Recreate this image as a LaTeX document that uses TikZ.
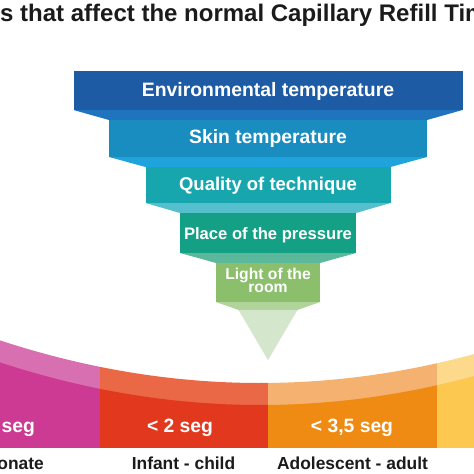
\documentclass[tikz,border=0pt]{standalone}
\usepackage{fontspec}
\setmainfont{Liberation Sans}
\usepackage{xcolor}
\usepackage{tikz}
\definecolor{CrtInk}{HTML}{1B1B1B}
\definecolor{FunnelA}{HTML}{1D5BA5}
\definecolor{RimA}{HTML}{2073BD}
\definecolor{FunnelB}{HTML}{198CC0}
\definecolor{RimB}{HTML}{1FA3DC}
\definecolor{FunnelC}{HTML}{17A6AE}
\definecolor{RimC}{HTML}{56BFCD}
\definecolor{FunnelD}{HTML}{13A085}
\definecolor{RimD}{HTML}{5CB89B}
\definecolor{FunnelE}{HTML}{8BBF6B}
\definecolor{RimE}{HTML}{B1D49B}
\definecolor{FunnelTip}{HTML}{D4E6CB}
\definecolor{NeoDark}{HTML}{CC3A94}
\definecolor{NeoLight}{HTML}{D86FB0}
\definecolor{ChildDark}{HTML}{E2381E}
\definecolor{ChildLight}{HTML}{EB6846}
\definecolor{AdultDark}{HTML}{EF8B12}
\definecolor{AdultLight}{HTML}{F5B16F}
\definecolor{ElderDark}{HTML}{FCC850}
\definecolor{ElderLight}{HTML}{FDD98B}

\begin{document}
\begin{tikzpicture}[x=1pt,y=-1pt,
  lvltext/.style={text=white,inner sep=0pt,anchor=base},
  segtext/.style={text=white,inner sep=0pt,anchor=base,
    font=\bfseries\fontsize{19.3}{20}\selectfont},
  agetext/.style={text=CrtInk,inner sep=0pt,anchor=base,
    font=\bfseries\fontsize{17.4}{18}\selectfont}]
  \useasboundingbox (0,0) rectangle (474,474);
  \clip (0,0) rectangle (474,474);
  \fill[white] (0,0) rectangle (474,474);
  % title, cut at both sides
  \node[text=CrtInk,inner sep=0pt,anchor=base west,font=\bfseries\fontsize{24}{26}\selectfont]
    (title) at (0,21.7) {s that affect the normal Capillary Refill Tim};
  % funnel
  \foreach \yt/\yb/\yn/\w/\wn/\body/\rim in
    {71/110/120/194.5/159/FunnelA/RimA,
     120/157/167/159/122.5/FunnelB/RimB,
     167/203/213/122.5/88/FunnelC/RimC,
     213/253/263/88/52/FunnelD/RimD,
     263/302/310/52/29.5/FunnelE/RimE}
  {
    \fill[\body] (268-\w,\yt) rectangle (268+\w,\yb);
    \fill[\rim] (268-\w,\yb) -- (268+\w,\yb) -- (268+\wn,\yn) -- (268-\wn,\yn) -- cycle;
  }
  \fill[FunnelTip] (238.5,310) -- (297.5,310) -- (268,360) -- cycle;
  \node[lvltext,font=\bfseries\fontsize{19.4}{20}\selectfont] (envtemp) at (268,96) {Environmental temperature};
  \node[lvltext,font=\bfseries\fontsize{19.3}{20}\selectfont] (skintemp) at (268,143.3) {Skin temperature};
  \node[lvltext,font=\bfseries\fontsize{18.5}{20}\selectfont] (technique) at (268,190) {Quality of technique};
  \node[lvltext,font=\bfseries\fontsize{16.6}{18}\selectfont] (pressure) at (268,239) {Place of the pressure};
  \node[lvltext,anchor=center,align=center,font=\bfseries\fontsize{15.7}{12.7}\selectfont]
    (roomlight) at (268,280.7) {Light of the\\room};
  % age bands
  \begin{scope}
    \clip plot[domain=-5:480,samples=60] (\x,{383-((\x-260)/100)^2*6.305})
      -- (480,448) -- (-5,448) -- cycle;
    \fill[NeoLight] (-5,300) rectangle (100,448);
    \fill[ChildLight] (100,300) rectangle (268,448);
    \fill[AdultLight] (268,300) rectangle (437,448);
    \fill[ElderLight] (437,300) rectangle (480,448);
    \clip plot[domain=-5:480,samples=60] (\x,{405-((\x-260)/100)^2*6.305})
      -- (480,448) -- (-5,448) -- cycle;
    \fill[NeoDark] (-5,300) rectangle (100,448);
    \fill[ChildDark] (100,300) rectangle (268,448);
    \fill[AdultDark] (268,300) rectangle (437,448);
    \fill[ElderDark] (437,300) rectangle (480,448);
  \end{scope}
  \node[segtext,anchor=base east] (neoseg) at (35,432) {seg};
  \node[segtext] (childseg) at (180,432) {< 2 seg};
  \node[segtext] (adultseg) at (352,432) {< 3,5 seg};
  \node[agetext,anchor=base east] (neoage) at (44,469) {onate};
  \node[agetext] (childage) at (183.5,469) {Infant - child};
  \node[agetext] (adultage) at (352.5,469) {Adolescent - adult};
\end{tikzpicture}
\end{document}
